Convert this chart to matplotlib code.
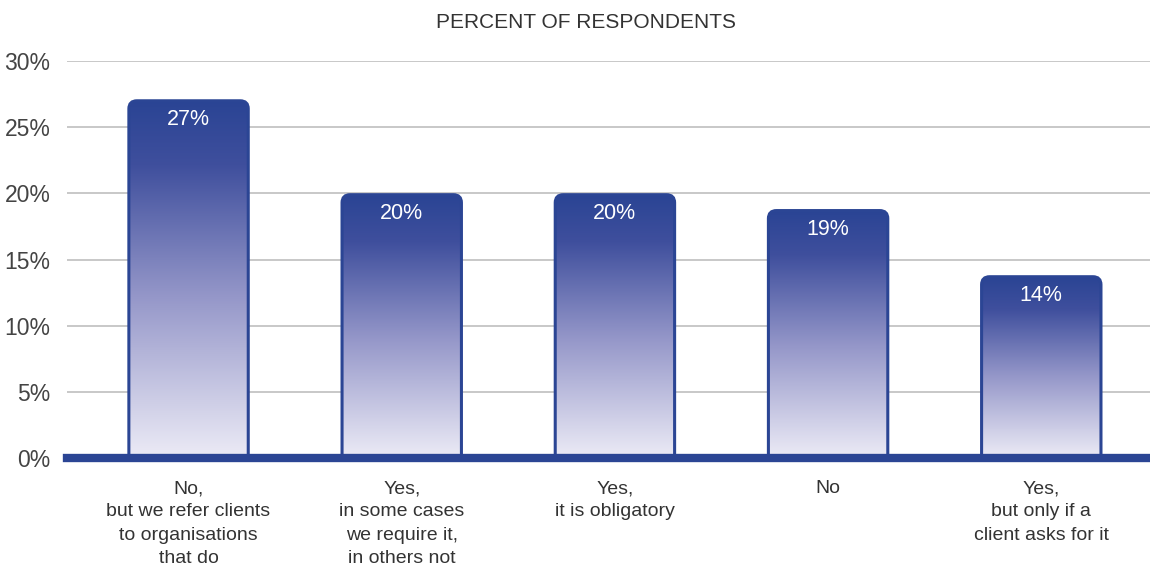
import numpy as np
import matplotlib
matplotlib.use('Agg')
import matplotlib.pyplot as plt
from matplotlib.patches import FancyBboxPatch
from matplotlib.colors import LinearSegmentedColormap

categories = ['No,\nbut we refer clients\nto organisations\nthat do',
              'Yes,\nin some cases\nwe require it,\nin others not',
              'Yes,\nit is obligatory',
              'No',
              'Yes,\nbut only if a\nclient asks for it']
values = [27.0, 19.9, 19.9, 18.7, 13.7]
value_labels = ['27%', '20%', '20%', '19%', '14%']
y_ticks = [0, 5, 10, 15, 20, 25, 30]

plt.rcParams['font.family'] = ['Liberation Sans', 'DejaVu Sans']
blue = '#2b4594'
cmap = LinearSegmentedColormap.from_list('barfade', [(0.0, '#ecebf6'), (0.45, '#9597c9'),
                                                    (0.82, '#3f4f9d'), (1.0, '#2a4494')])

fig = plt.figure(figsize=(11.5, 5.71), dpi=100)
ax = fig.add_axes([0.0583, 0.198, 0.9417, 0.695])

# pixel scales for rounded corners
px_x = 213.0
px_y = 13.23
width = 0.56
grad = np.linspace(0, 1, 256).reshape(-1, 1)

for i, v in enumerate(values):
    x0 = i - width / 2
    patch = FancyBboxPatch((x0, -2), width, v + 2,
                           boxstyle='round,pad=0,rounding_size=%f' % (8 / px_x),
                           mutation_aspect=px_x / px_y,
                           facecolor='none', edgecolor=blue, linewidth=2.2, zorder=3)
    ax.add_patch(patch)
    im = ax.imshow(grad, extent=(x0, x0 + width, 0, v), origin='lower', cmap=cmap,
                   aspect='auto', zorder=2, interpolation='bilinear')
    im.set_clip_path(patch)
    ax.text(i, v - 1.45, value_labels[i], ha='center', va='center', color='white',
            fontsize=15.5, zorder=4)

ax.set_aspect('auto')
ax.set_xlim(-0.57, 4.51)
ax.set_ylim(0, 30)

ax.set_yticks(y_ticks)
ax.set_yticklabels(['%d%%' % t for t in y_ticks], fontsize=16.5, color='#444444')
ax.yaxis.grid(True, color='#c4c4c4', linewidth=1.3, zorder=0)
ax.set_axisbelow(True)
ax.tick_params(axis='y', length=0, pad=12)

ax.set_xticks(range(len(categories)))
ax.set_xticklabels(categories, fontsize=14, color='#333333', linespacing=1.48, va='top')
ax.tick_params(axis='x', length=0, pad=16)

for s in ax.spines.values():
    s.set_visible(False)
ax.axhline(0, color=blue, linewidth=6, zorder=5, clip_on=False)

fig.text(0.51, 0.96, 'PERCENT OF RESPONDENTS', ha='center', va='center', fontsize=15,
         color='#333333')

fig.savefig('out.png', dpi=100)
